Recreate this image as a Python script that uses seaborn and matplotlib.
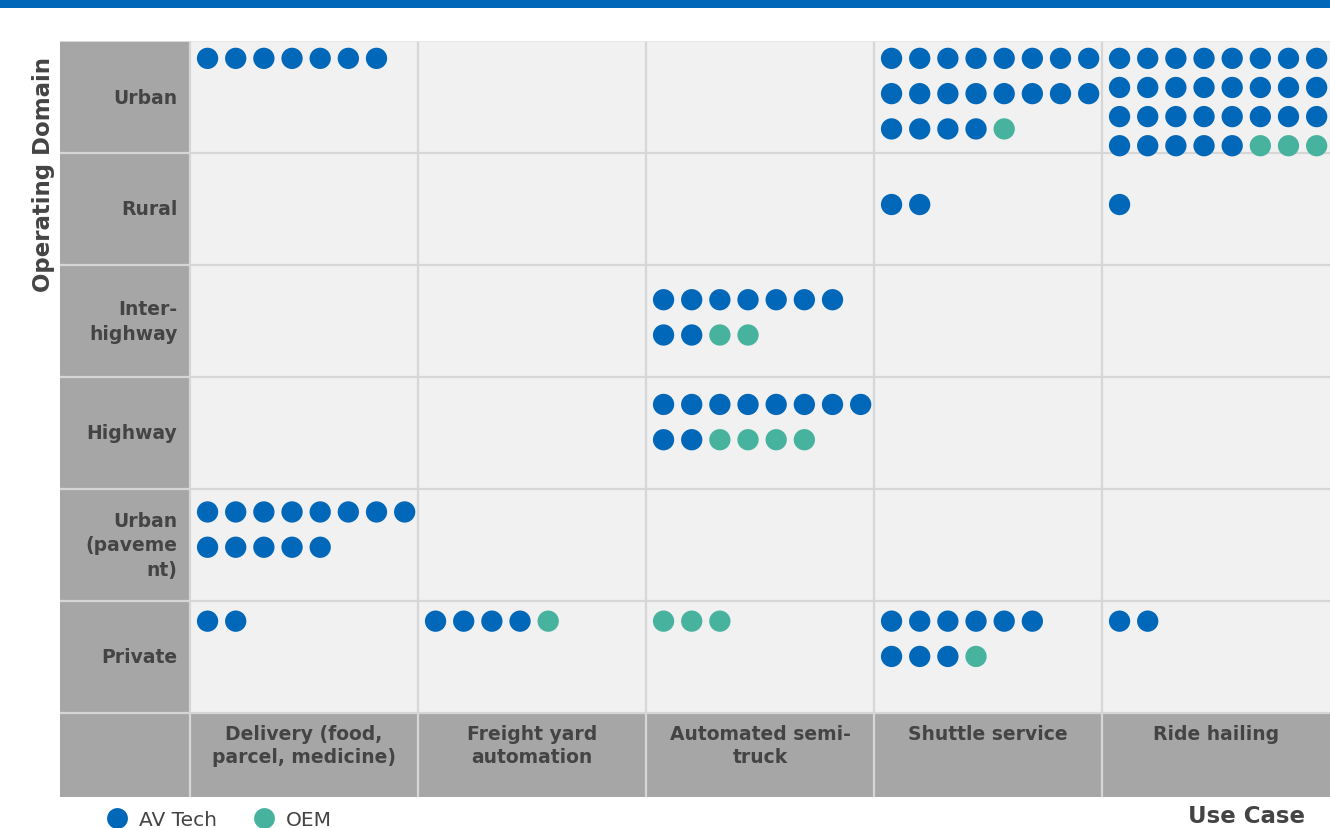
import numpy as np
import pandas as pd
import matplotlib
matplotlib.use("Agg")
import matplotlib.pyplot as plt
from matplotlib.patches import Rectangle
from matplotlib.lines import Line2D
import seaborn as sns

# ---------------- data ----------------
domains = ["Urban", "Rural", "Inter-\nhighway", "Highway", "Urban\n(paveme\nnt)", "Private"]
use_cases = ["Delivery (food,\nparcel, medicine)", "Freight yard\nautomation",
             "Automated semi-\ntruck", "Shuttle service", "Ride hailing"]

# counts per domain (rows) x use case (columns)
av_tech = [
    [7, 0, 0, 20, 29],
    [0, 0, 0, 2, 1],
    [0, 0, 9, 0, 0],
    [0, 0, 10, 0, 0],
    [13, 0, 0, 0, 0],
    [2, 4, 0, 9, 2],
]
oem = [
    [0, 0, 0, 1, 3],
    [0, 0, 0, 0, 0],
    [0, 0, 2, 0, 0],
    [0, 0, 4, 0, 0],
    [0, 0, 0, 0, 0],
    [0, 1, 3, 1, 0],
]
series_names = ["AV Tech", "OEM"]

# ---------------- style ----------------
BLUE = "#0067B9"
TEAL = "#47B39F"
CELL = "#F1F1F1"
HEAD = "#A6A6A6"
LINE = "#D6D6D6"
TXT = "#444444"

sns.set_style("white")
plt.rcParams["font.family"] = ["DejaVu Sans"]

W, H = 1330, 829
fig = plt.figure(figsize=(W / 100, H / 100), dpi=100)

# top blue band
fig.add_artist(Rectangle((0, 1 - 9 / H), 1, 9 / H, transform=fig.transFigure,
                         color=BLUE, lw=0))

HEAD_W = 130 / 228   # header column width in column units
FOOT_H = 84 / 112    # footer row height in row units
ax = fig.add_axes([60 / W, (H - 798) / H, 1270 / W, 756 / H])
ax.set_xlim(-HEAD_W, len(use_cases))
ax.set_ylim(len(domains) + FOOT_H, 0)
ax.set_axis_off()

nrow, ncol = len(domains), len(use_cases)
# backgrounds
ax.add_patch(Rectangle((0, 0), ncol, nrow, color=CELL, lw=0, zorder=0))
ax.add_patch(Rectangle((-HEAD_W, 0), HEAD_W, nrow + FOOT_H, color=HEAD, lw=0, zorder=0))
ax.add_patch(Rectangle((0, nrow), ncol, FOOT_H, color=HEAD, lw=0, zorder=0))
# grid lines
for xv in range(0, ncol):
    ax.plot([xv, xv], [0, nrow + FOOT_H], color=LINE, lw=1.6, zorder=1)
for yv in range(1, nrow + 1):
    ax.plot([-HEAD_W, ncol], [yv, yv], color=LINE, lw=1.6, zorder=1)
ax.plot([-HEAD_W, ncol], [0, 0], color="#E4E4E4", lw=1.2, zorder=1)

# row labels
for i, d in enumerate(domains):
    ax.text(-0.055, i + 0.5, d, ha="right", va="center", fontsize=13.5,
            fontweight="bold", color=TXT, linespacing=1.35)
# column labels
for j, u in enumerate(use_cases):
    ax.text(j + 0.5, nrow + 0.095, u, ha="center", va="top", fontsize=13.5,
            fontweight="bold", color=TXT, linespacing=1.3)

# ---------------- dot layout ----------------
top_off = [0.155, 0.46, 0.31, 0.245, 0.205, 0.18]
per_row_override = {(2, 2): 7, (5, 3): 6}
rows = []
for i in range(nrow):
    for j in range(ncol):
        kinds = [series_names[0]] * av_tech[i][j] + [series_names[1]] * oem[i][j]
        n = per_row_override.get((i, j), 8)
        nlines = int(np.ceil(len(kinds) / n)) if kinds else 0
        gap = 0.26 if nlines >= 4 else 0.315
        for k, kind in enumerate(kinds):
            r, c = divmod(k, n)
            rows.append({"x": j + 0.077 + c * 0.1235,
                         "y": i + top_off[i] + r * gap,
                         "kind": kind})
df = pd.DataFrame(rows)

sns.scatterplot(data=df, x="x", y="y", hue="kind",
                palette={series_names[0]: BLUE, series_names[1]: TEAL},
                s=235, linewidth=0, legend=False, ax=ax, zorder=3)
ax.set_xlim(-HEAD_W, ncol)
ax.set_ylim(nrow + FOOT_H, 0)
ax.set_axis_off()

# axis titles
fig.text(44 / W, 1 - 175 / H, "Operating Domain", rotation=90, ha="center",
         va="center", fontsize=16.5, fontweight="bold", color=TXT)
fig.text(1305 / W, 1 - 817 / H, "Use Case", ha="right", va="center",
         fontsize=16.5, fontweight="bold", color=TXT)

# legend
handles = [Line2D([], [], marker="o", ls="", markersize=15, markeredgewidth=0,
                  color=BLUE, label=series_names[0]),
           Line2D([], [], marker="o", ls="", markersize=15, markeredgewidth=0,
                  color=TEAL, label=series_names[1])]
leg = fig.legend(handles=handles, loc="center left", ncol=2, frameon=False,
                 bbox_to_anchor=(97 / W, 1 - 821 / H), fontsize=14.5,
                 handletextpad=0.5, columnspacing=1.7, borderaxespad=0,
                 handlelength=1.2)
for t in leg.get_texts():
    t.set_color(TXT)

fig.savefig("out.png", dpi=100)
